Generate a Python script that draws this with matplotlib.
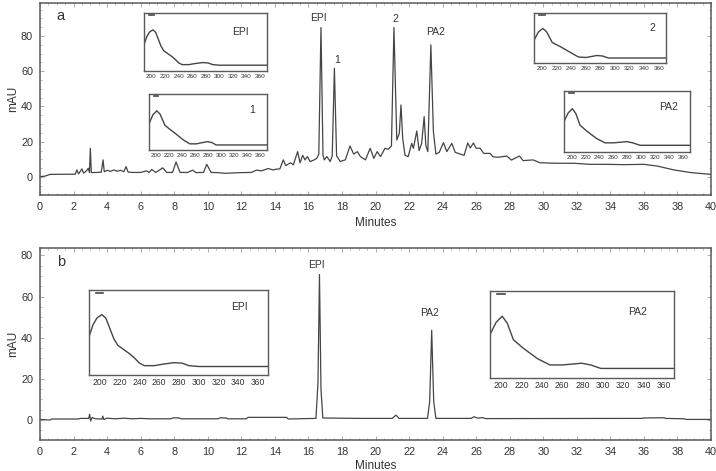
"""
HPLC chromatograms (a: extract, b: standards) with UV spectra insets.
"""

import matplotlib
matplotlib.use("Agg")
import matplotlib.pyplot as plt
from matplotlib.ticker import MultipleLocator

plt.rcParams["font.family"] = ["Liberation Sans", "DejaVu Sans"]

FIG_W, FIG_H = 716, 471
TRACE_COLOR = "#454545"
TEXT_COLOR = "#333333"
FRAME_COLOR = "#5a5a5a"

# --- chromatogram a (sample), vertices ---
a_minutes = [
    0.0, 0.3, 0.6, 2.1, 2.2, 2.3, 2.5, 2.6, 2.78, 2.88, 2.95, 3.0, 3.06, 3.3,
    3.65, 3.76, 3.83, 4.0, 4.2, 4.4, 4.6, 4.8, 5.0, 5.13, 5.25, 5.5, 6.0, 6.36,
    6.5, 6.66, 6.9, 7.32, 7.55, 7.9, 8.11, 8.35, 8.8, 9.1, 9.3, 9.75, 9.94,
    10.2, 10.6, 11.0, 11.5, 12.0, 12.6, 12.9, 13.2, 13.6, 13.9, 14.1, 14.3,
    14.5, 14.65, 14.94, 15.1, 15.36, 15.5, 15.66, 15.8, 15.94, 16.1, 16.3,
    16.5, 16.62, 16.75, 16.87, 16.95, 17.1, 17.3, 17.42, 17.55, 17.68, 17.9,
    18.2, 18.48, 18.7, 18.92, 19.1, 19.4, 19.68, 19.9, 20.1, 20.3, 20.57,
    20.75, 20.95, 21.1, 21.27, 21.42, 21.52, 21.62, 21.76, 21.95, 22.16,
    22.26, 22.46, 22.6, 22.75, 22.9, 23.0, 23.12, 23.3, 23.45, 23.6, 23.8,
    24.05, 24.25, 24.55, 24.75, 25.05, 25.28, 25.5, 25.65, 25.84, 26.0, 26.24,
    26.45, 26.83, 27.0, 27.3, 27.83, 28.1, 28.58, 28.8, 29.4, 29.8, 30.8,
    31.8, 32.8, 33.8, 34.8, 36.0, 36.8, 37.8, 38.8, 39.75, 40.0,
]
a_mau = [
    0.2, 0.5, 1.5, 1.6, 4.0, 1.8, 4.6, 2.2, 3.6, 5.0, 2.5, 16.3, 2.5, 2.6,
    2.7, 9.7, 3.0, 3.8, 3.2, 4.0, 3.3, 3.8, 3.0, 5.9, 2.8, 2.6, 2.6, 3.5,
    2.6, 4.3, 2.6, 5.2, 2.6, 2.6, 8.5, 2.6, 2.6, 3.9, 2.5, 2.6, 7.2,
    2.6, 2.5, 2.1, 2.3, 2.5, 2.6, 3.9, 3.5, 4.8, 4.0, 4.5, 4.6,
    9.7, 6.5, 8.1, 6.9, 14.4, 8.1, 12.3, 9.7, 11.6, 8.8, 9.5,
    10.6, 13.0, 84.8, 12.3, 9.7, 11.6, 8.8, 12.0, 61.7, 12.0, 8.8,
    9.7, 17.6, 13.0, 14.4, 11.6, 9.7, 16.3, 10.6, 14.4, 11.6, 16.3,
    15.7, 17.6, 84.8, 21.0, 24.8, 40.9, 22.0, 12.3, 11.6, 19.1,
    16.3, 26.1, 15.0, 19.0, 34.3, 18.0, 14.4, 75.0, 26.0, 13.0, 14.0,
    19.5, 14.4, 19.1, 14.0, 13.0, 12.3, 19.3, 16.5, 19.3, 16.3, 16.3,
    13.4, 13.4, 11.5, 11.2, 11.9, 9.6, 11.9, 9.3, 9.7, 8.1, 7.8,
    7.8, 7.2, 7.2, 7.0, 7.2, 6.2, 4.0, 2.5, 1.7, 1.5,
]

# --- chromatogram b (standards) ---
b_minutes = [
    0.0, 0.6, 0.7, 2.3, 2.4, 2.9, 2.96, 3.02, 3.1, 3.3, 3.7, 3.74, 3.8, 4.0,
    4.5, 5.0, 5.5, 6.0, 6.5, 7.8, 7.95, 8.3, 8.4, 10.6, 10.75, 11.1, 11.2,
    12.3, 12.4, 14.7, 14.8, 16.45, 16.57, 16.66, 16.75, 16.86, 19.0, 21.0,
    21.22, 21.4, 23.1, 23.23, 23.35, 23.47, 23.6, 25.7, 25.87, 26.1, 26.37,
    26.55, 35.9, 36.0, 37.2, 37.3, 38.4, 38.5, 40.0,
]
b_mau = [
    0.3, 0.0, 0.5, 0.5, 0.8, 0.8, 2.8, -0.5, 1.2, 0.6, 0.5, 1.9, 0.3, 0.9,
    0.6, 0.9, 0.6, 0.8, 0.6, 0.6, 1.1, 1.0, 0.6, 0.6, 1.1, 1.0, 0.6,
    0.6, 1.3, 1.3, 0.5, 0.8, 18.0, 70.7, 15.0, 1.0, 0.8, 0.8,
    2.4, 0.8, 0.8, 9.0, 43.6, 9.0, 0.8, 0.8, 1.6, 0.9, 1.2,
    0.7, 0.8, 1.0, 1.1, 0.8, 0.6, 0.3, 0.3,
]

# --- UV spectra (relative absorbance, fraction of inset height) ---
spec_epi_nm = [189, 193, 197, 202, 206, 210, 214, 218, 224, 230, 235, 240,
               245, 255, 265, 275, 283, 290, 300, 370]
spec_epi = [0.45, 0.59, 0.67, 0.71, 0.67, 0.55, 0.43, 0.35, 0.30, 0.25, 0.20,
            0.14, 0.11, 0.11, 0.13, 0.145, 0.14, 0.11, 0.10, 0.10]

spec_1_nm = [189.5, 195, 201, 206, 213.5, 221, 231, 241.6, 251.6, 261.7, 270,
             279, 286, 292, 370]
spec_1 = [0.48, 0.63, 0.70, 0.64, 0.44, 0.37, 0.28, 0.18, 0.11, 0.11, 0.13,
          0.15, 0.13, 0.09, 0.09]

spec_2_nm = [189.6, 195, 201, 206, 214, 226, 239, 250, 260, 268, 275, 283,
             291, 370]
spec_2 = [0.47, 0.62, 0.69, 0.63, 0.41, 0.32, 0.21, 0.12, 0.11, 0.13, 0.15,
          0.14, 0.10, 0.10]

spec_pa2_nm = [189, 195, 201, 206, 212, 222, 236, 248, 260, 270, 279, 288,
               298, 370]
spec_pa2 = [0.50, 0.64, 0.71, 0.63, 0.44, 0.34, 0.22, 0.15, 0.15, 0.16, 0.17,
            0.15, 0.11, 0.11]

inset_ticks = [200, 220, 240, 260, 280, 300, 320, 340, 360]


def px_rect(left, top, right, bottom):
    """Pixel box (image coords) -> figure fraction rect."""
    return [left / FIG_W, 1 - bottom / FIG_H,
            (right - left) / FIG_W, (bottom - top) / FIG_H]


def style_main(ax, ylim, xlabel_pad):
    ax.set_xlim(0, 40)
    ax.set_ylim(*ylim)
    ax.xaxis.set_major_locator(MultipleLocator(2))
    ax.xaxis.set_minor_locator(MultipleLocator(0.5))
    ax.yaxis.set_major_locator(MultipleLocator(20))
    ax.yaxis.set_minor_locator(MultipleLocator(5))
    ax.tick_params(which="both", direction="in", color="#b0b0b0",
                   top=True, right=True, labelsize=7.8, labelcolor=TEXT_COLOR)
    ax.tick_params(which="major", length=3, pad=5)
    ax.tick_params(which="minor", length=1.5)
    for s in ax.spines.values():
        s.set_color(FRAME_COLOR)
        s.set_linewidth(1.1)
    ax.set_ylabel("mAU", fontsize=8.5, color=TEXT_COLOR, labelpad=1.5)
    ax.set_xlabel("Minutes", fontsize=8.5, color=TEXT_COLOR,
                  labelpad=xlabel_pad)


def add_inset(fig, box, nm, absorb, label, label_xy, tick_size):
    ax = fig.add_axes(px_rect(*box))
    ax.plot(nm, absorb, color=TRACE_COLOR, lw=1.0)
    ax.set_xlim(189, 370)
    ax.set_ylim(0, 1)
    ax.set_xticks(inset_ticks)
    ax.set_yticks([])
    ax.tick_params(axis="x", length=0, pad=2, labelsize=tick_size,
                   labelcolor=TEXT_COLOR)
    for s in ax.spines.values():
        s.set_color(FRAME_COLOR)
        s.set_linewidth(1.0)
    # small marker dash in the upper-left corner, as in the instrument export
    ax.plot([0.04, 0.08], [0.965, 0.965], transform=ax.transAxes,
            color=TRACE_COLOR, lw=1.2)
    ax.text(*label_xy, label, transform=ax.transAxes, ha="center",
            va="center", fontsize=7.5, color=TEXT_COLOR)
    return ax


def main():
    fig = plt.figure(figsize=(FIG_W / 100, FIG_H / 100), dpi=100)

    # panel a
    ax_a = fig.add_axes(px_rect(40, 3, 711, 195))
    ax_a.plot(a_minutes, a_mau, color=TRACE_COLOR, lw=0.9)
    style_main(ax_a, (-10.2, 98.7), 4)
    ax_a.text(0.025, 0.93, "a", transform=ax_a.transAxes, fontsize=10.5,
              color=TEXT_COLOR, ha="left", va="center")
    for txt, x, y in (("EPI", 16.57, 90.2), ("1", 17.7, 66.4),
                      ("2", 21.16, 89.6), ("PA2", 23.6, 82.3)):
        ax_a.text(x, y, txt, fontsize=7.5, color=TEXT_COLOR,
                  ha="center", va="center")

    # panel b
    ax_b = fig.add_axes(px_rect(40, 248, 711, 440))
    ax_b.plot(b_minutes, b_mau, color=TRACE_COLOR, lw=0.9)
    style_main(ax_b, (-9.7, 83.6), 2)
    ax_b.text(0.025, 0.927, "b", transform=ax_b.transAxes, fontsize=10.5,
              color=TEXT_COLOR, ha="left", va="center")
    for txt, x, y in (("EPI", 16.45, 75.5), ("PA2", 23.25, 52.1)):
        ax_b.text(x, y, txt, fontsize=7.5, color=TEXT_COLOR,
                  ha="center", va="center")

    # spectra insets
    add_inset(fig, (144, 13, 267, 71), spec_epi_nm, spec_epi, "EPI",
              (0.78, 0.67), 4.6)
    add_inset(fig, (149, 94, 267, 150), spec_1_nm, spec_1, "1",
              (0.87, 0.71), 4.6)
    add_inset(fig, (534, 13, 666, 63), spec_2_nm, spec_2, "2",
              (0.90, 0.70), 4.6)
    add_inset(fig, (564, 91, 690, 152), spec_pa2_nm, spec_pa2, "PA2",
              (0.83, 0.74), 4.6)
    add_inset(fig, (89, 290, 268, 375), spec_epi_nm, spec_epi, "EPI",
              (0.84, 0.80), 6.2)
    add_inset(fig, (490, 291, 674, 378), spec_pa2_nm, spec_pa2, "PA2",
              (0.80, 0.76), 6.2)

    fig.savefig("out.png", dpi=100)
    plt.close(fig)


if __name__ == "__main__":
    main()
